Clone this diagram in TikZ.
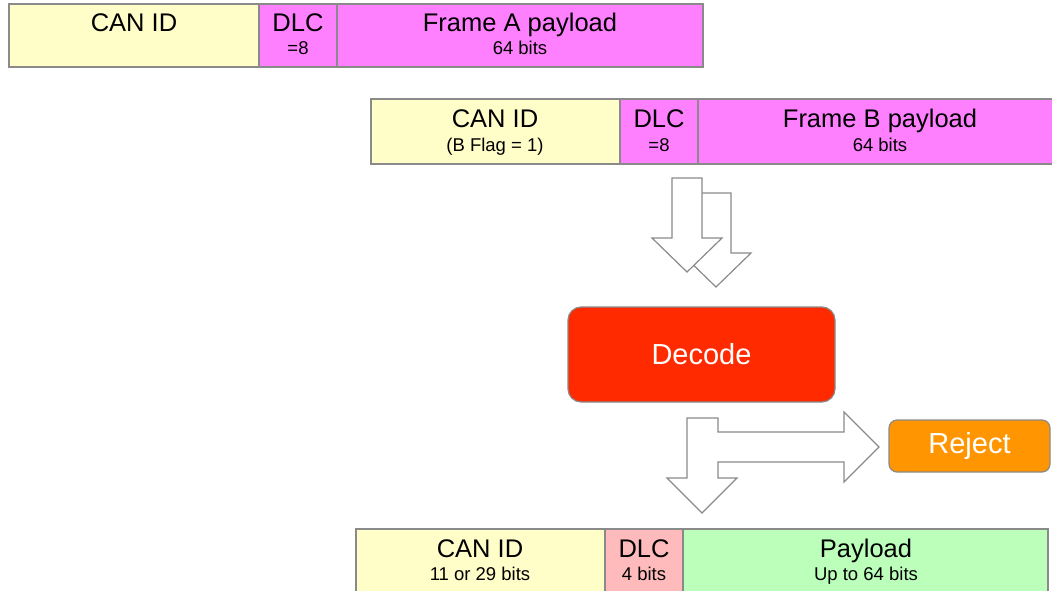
\documentclass[tikz,border=0pt]{standalone}
\usepackage{fontspec}
\setmainfont{Liberation Sans}
\definecolor{idyellow}{HTML}{FFFEC8}
\definecolor{dlcmagenta}{HTML}{FF80FF}
\definecolor{dlcpink}{HTML}{FFBBBB}
\definecolor{paygreen}{HTML}{BBFFBB}
\definecolor{edgegray}{HTML}{8A8A8A}
\definecolor{decodered}{HTML}{FF2A00}
\definecolor{rejectorange}{HTML}{FF9500}
\tikzset{
  cell/.style={draw=edgegray, line width=1.5pt, rectangle, inner sep=0pt},
  bigtxt/.style={anchor=base, inner sep=0pt, font=\fontsize{25.5}{27}\selectfont},
  smalltxt/.style={anchor=base, inner sep=0pt, font=\fontsize{18.5}{20}\selectfont},
  blockarrow/.style={draw=edgegray, fill=white, line width=1.2pt, line join=miter},
  action/.style={draw=edgegray, line width=1.2pt, text=white,
    font=\fontsize{29}{31}\selectfont},
}
\begin{document}
\begin{tikzpicture}[x=1pt, y=-1pt]
\useasboundingbox (0,0) rectangle (1052,591);
\clip (0,0) rectangle (1052,591);

% ---- Frame A ----
\path[cell, fill=idyellow]   (9,4)   rectangle (259,67);
\path[cell, fill=dlcmagenta] (259,4) rectangle (337,67);
\path[cell, fill=dlcmagenta] (337,4) rectangle (703,67);
\node[bigtxt]   (aid)  at (134,32) {CAN ID};
\node[bigtxt]   (adlc) at (298,32) {DLC};
\node[smalltxt] (adln) at (298,55) {=8};
\node[bigtxt]   (apay) at (520,32) {Frame A payload};
\node[smalltxt] (apbn) at (520,55) {64 bits};

% ---- Frame B ----
\path[cell, fill=idyellow]   (371,99) rectangle (620,164);
\path[cell, fill=dlcmagenta] (620,99) rectangle (698,164);
\path[cell, fill=dlcmagenta] (698,99) rectangle (1062,164);
\node[bigtxt]   (bid)  at (495,128) {CAN ID};
\node[smalltxt] (bidn) at (495,152) {(B Flag = 1)};
\node[bigtxt]   (bdlc) at (659,128) {DLC};
\node[smalltxt] (bdln) at (659,152) {=8};
\node[bigtxt]   (bpay) at (880,128) {Frame B payload};
\node[smalltxt] (bpbn) at (880,152) {64 bits};

% ---- two frames flowing into the decoder ----
\draw[blockarrow] (701,193) -- (731,193) -- (731,253) -- (751,253) -- (716,287)
  -- (681,253) -- (701,253) -- cycle;
\draw[blockarrow] (672,178) -- (702,178) -- (702,238) -- (722,238) -- (687,272)
  -- (652,238) -- (672,238) -- cycle;

% ---- decoder ----
\node[action, fill=decodered, rounded corners=13pt, minimum width=267pt,
  minimum height=95pt] (decode) at (701.5,354.5) {Decode};

% ---- reject ----
\node[action, fill=rejectorange, rounded corners=8pt, minimum width=161pt,
  minimum height=52pt] (reject) at (969.5,446) {Reject};

% ---- split: pass down or reject ----
\draw[blockarrow] (687,418) -- (718,418) -- (718,432) -- (844,432) -- (844,412)
  -- (879,447) -- (844,482) -- (844,462) -- (718,462) -- (718,478) -- (737,478)
  -- (702,513) -- (667,478) -- (687,478) -- cycle;

% ---- resulting CAN frame ----
\path[cell, fill=idyellow] (356,529) rectangle (605,594);
\path[cell, fill=dlcpink]  (605,529) rectangle (683,594);
\path[cell, fill=paygreen] (683,529) rectangle (1048,594);
\node[bigtxt]   (cid)  at (480,557) {CAN ID};
\node[smalltxt] (cidn) at (480,580) {11 or 29 bits};
\node[bigtxt]   (cdlc) at (644,557) {DLC};
\node[smalltxt] (cdln) at (644,580) {4 bits};
\node[bigtxt]   (cpay) at (866,557) {Payload};
\node[smalltxt] (cpbn) at (866,580) {Up to 64 bits};
\end{tikzpicture}
\end{document}
